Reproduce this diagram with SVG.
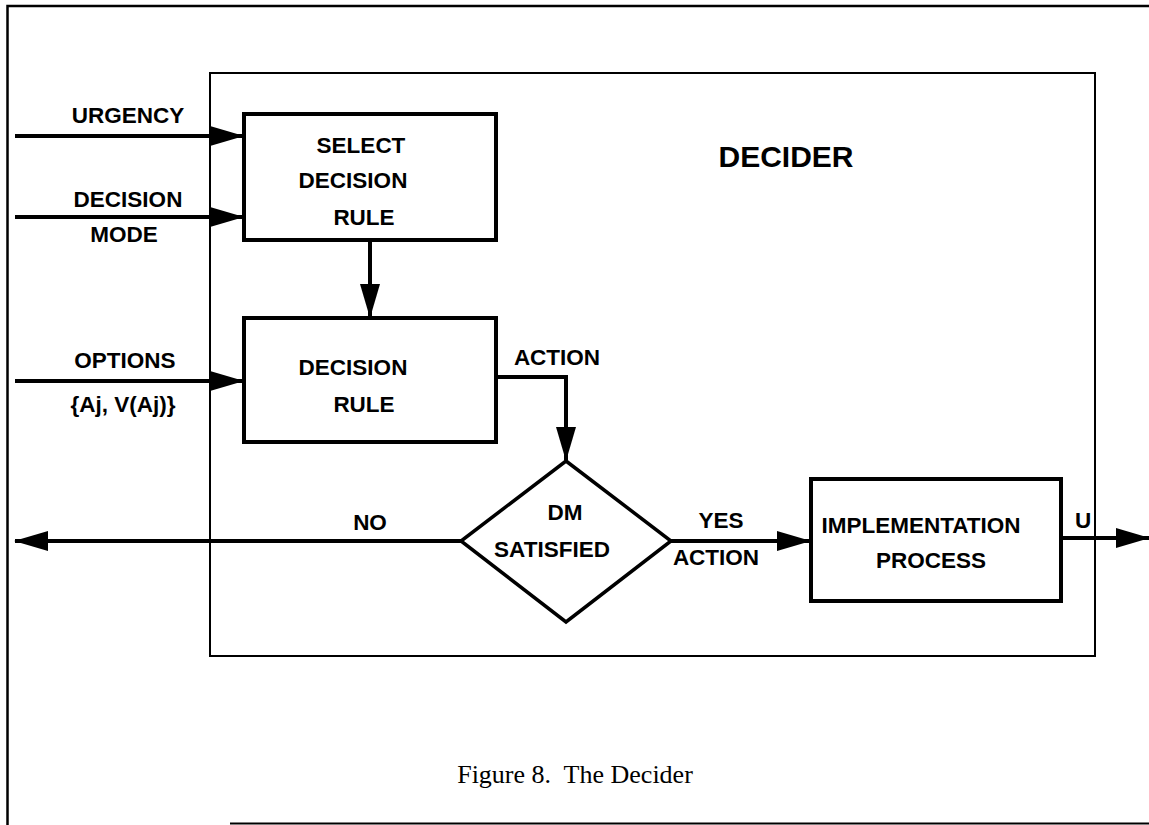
<svg xmlns="http://www.w3.org/2000/svg" width="1149" height="825" viewBox="0 0 1149 825">
<style>
.lbl{font-family:"Liberation Sans",Arial,sans-serif;font-weight:bold;font-size:22.5px;fill:#000;text-anchor:middle}
.box{fill:#fff;stroke:#000;stroke-width:4}
.conn{fill:none;stroke:#000;stroke-width:4}
.frame{fill:none;stroke:#000}
</style>
<defs>
<marker id="arrow" markerUnits="userSpaceOnUse" markerWidth="34" markerHeight="20" refX="33" refY="10" orient="auto" viewBox="0 0 34 20">
<path d="M0,0 L34,10 L0,20 Z" fill="#000"/>
</marker>
</defs>
<rect width="1149" height="825" fill="#fff"/>
<g id="frame">
<path class="frame" stroke-width="2.5" d="M1149,6 H7.5 V825"/>
<path class="frame" stroke-width="2" d="M230,823.5 H1149"/>
</g>
<g id="decider">
<rect x="210" y="73" width="885" height="583" fill="none" stroke="#000" stroke-width="2"/>
<text class="lbl" x="786" y="167" style="font-size:30px">DECIDER</text>
</g>
<g id="connectors">
<path class="conn" d="M15,136 H243" marker-end="url(#arrow)"/>
<path class="conn" d="M15,217 H243" marker-end="url(#arrow)"/>
<path class="conn" d="M15,381 H243" marker-end="url(#arrow)"/>
<path class="conn" d="M370,240 V317" marker-end="url(#arrow)"/>
<path class="conn" d="M496,377 H566 V460" marker-end="url(#arrow)"/>
<path class="conn" d="M461,541 H15" marker-end="url(#arrow)"/>
<path class="conn" d="M671,541 H810" marker-end="url(#arrow)"/>
<path class="conn" d="M1061,538 H1149" marker-end="url(#arrow)"/>
<text class="lbl" x="128" y="123">URGENCY</text>
<text class="lbl" x="128" y="207">DECISION</text>
<text class="lbl" x="124" y="242">MODE</text>
<text class="lbl" x="125" y="368">OPTIONS</text>
<text class="lbl" x="123" y="412">{Aj, V(Aj)}</text>
<text class="lbl" x="557" y="365">ACTION</text>
<text class="lbl" x="370" y="530">NO</text>
<text class="lbl" x="721" y="528">YES</text>
<text class="lbl" x="716" y="565">ACTION</text>
<text class="lbl" x="1083" y="528">U</text>
</g>
<g id="select-decision-rule">
<rect class="box" x="244" y="114" width="252" height="126"/>
<text class="lbl" x="361" y="153">SELECT</text>
<text class="lbl" x="353" y="188">DECISION</text>
<text class="lbl" x="364" y="225">RULE</text>
</g>
<g id="decision-rule">
<rect class="box" x="244" y="318" width="252" height="124"/>
<text class="lbl" x="353" y="375">DECISION</text>
<text class="lbl" x="364" y="412">RULE</text>
</g>
<g id="dm-satisfied">
<polygon points="566,461 671,541 566,622 461,541" fill="#fff" stroke="#000" stroke-width="3.5"/>
<text class="lbl" x="565" y="520">DM</text>
<text class="lbl" x="552" y="557">SATISFIED</text>
</g>
<g id="implementation-process">
<rect class="box" x="811" y="479" width="250" height="122"/>
<text class="lbl" x="921" y="533">IMPLEMENTATION</text>
<text class="lbl" x="931" y="568">PROCESS</text>
</g>
<g id="caption">
<text x="575" y="783" style="font-family:'Liberation Serif','Times New Roman',serif;font-size:26px;text-anchor:middle" xml:space="preserve">Figure 8.  The Decider</text>
</g>
</svg>
